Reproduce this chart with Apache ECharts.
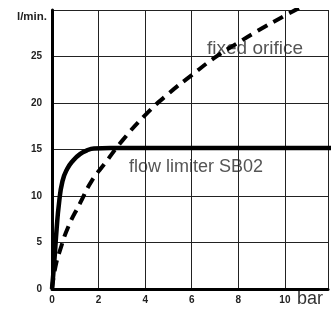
<!DOCTYPE html>
<html>
<head>
<meta charset="utf-8">
<script src="https://cdn.jsdelivr.net/npm/echarts@6/dist/echarts.min.js"></script>
<style>
html,body{margin:0;padding:0;background:#fff;}
#chart{width:331px;height:309px;}
</style>
</head>
<body>
<div id="chart"></div>
<script>
// pressure (bar) vs flow (l/min)
var xTicks = [0, 2, 4, 6, 8, 10];
var yTicks = [0, 5, 10, 15, 20, 25];
var orificeP = [0, 0.15, 0.35, 0.7, 1.2, 1.7, 2.3, 3, 4, 5, 6, 7, 8, 9, 10, 10.6];
var orificeQ = [0, 2.4, 4.2, 6.7, 9.2, 11.6, 13.6, 15.9, 18.7, 21, 23, 24.9, 26.5, 28, 29.4, 30.2];
var limiterP = [0, 0.1, 0.2, 0.3, 0.45, 0.65, 0.9, 1.2, 1.5, 1.8, 2.5, 12];
var limiterQ = [0, 3, 6.5, 9.2, 11.6, 12.9, 13.8, 14.5, 14.9, 15.1, 15.15, 15.15];

var pairs = function(xs, ys){
	return xs.map(function(x, i){ return [x, ys[i]]; });
};

var chart = echarts.init(document.getElementById('chart'));
var option = {
	backgroundColor: '#fff',
	animation: false,
	grid: { left: 52, right: 0, top: 10, bottom: 20 },
	xAxis: {
		type: 'value', min: 0, max: 11.85, interval: 2,
		axisLine: { show: true, lineStyle: { color: '#000', width: 3 } },
		axisTick: { show: false },
		splitLine: { show: true, lineStyle: { color: '#222', width: 1 } },
		axisLabel: {
			color: '#222', fontFamily: 'Liberation Sans', fontSize: 10, fontWeight: 'bold', margin: 6,
			formatter: function(v){ return xTicks.indexOf(v) >= 0 ? String(v) : ''; }
		}
	},
	yAxis: {
		type: 'value', min: 0, max: 30, interval: 5,
		name: 'l/min.', nameLocation: 'end', nameGap: -13,
		nameTextStyle: { color: '#222', fontFamily: 'Liberation Sans', fontSize: 11.5, fontWeight: 'bold', align: 'right', padding: [0, 5, 0, 0] },
		axisLine: { show: true, lineStyle: { color: '#000', width: 3 } },
		axisTick: { show: false },
		splitLine: { show: true, lineStyle: { color: '#222', width: 1 } },
		axisLabel: {
			color: '#222', fontFamily: 'Liberation Sans', fontSize: 10, fontWeight: 'bold', margin: 10,
			formatter: function(v){ return yTicks.indexOf(v) >= 0 ? String(v) : ''; }
		}
	},
	graphic: [
		{ type: 'text', left: 297, top: 290, style: { text: 'bar', font: '18px "Liberation Sans"', fill: '#333' } },
		{ type: 'text', left: 207, top: 39, style: { text: 'fixed orifice', font: '19px "Liberation Sans"', fill: '#555' } },
		{ type: 'text', left: 129, top: 158, style: { text: 'flow limiter SB02', font: '18px "Liberation Sans"', fill: '#555' } }
	],
	series: [{
		name: 'fixed orifice',
		type: 'line',
		data: pairs(orificeP, orificeQ),
		smooth: true,
		showSymbol: false,
		lineStyle: { color: '#000', width: 4, type: [11, 7] },
		z: 3
	}, {
		name: 'flow limiter SB02',
		type: 'line',
		data: pairs(limiterP, limiterQ),
		smooth: true,
		showSymbol: false,
		lineStyle: { color: '#000', width: 4.5 },
		z: 4
	}]
};
chart.setOption(option);
</script>
</body>
</html>
